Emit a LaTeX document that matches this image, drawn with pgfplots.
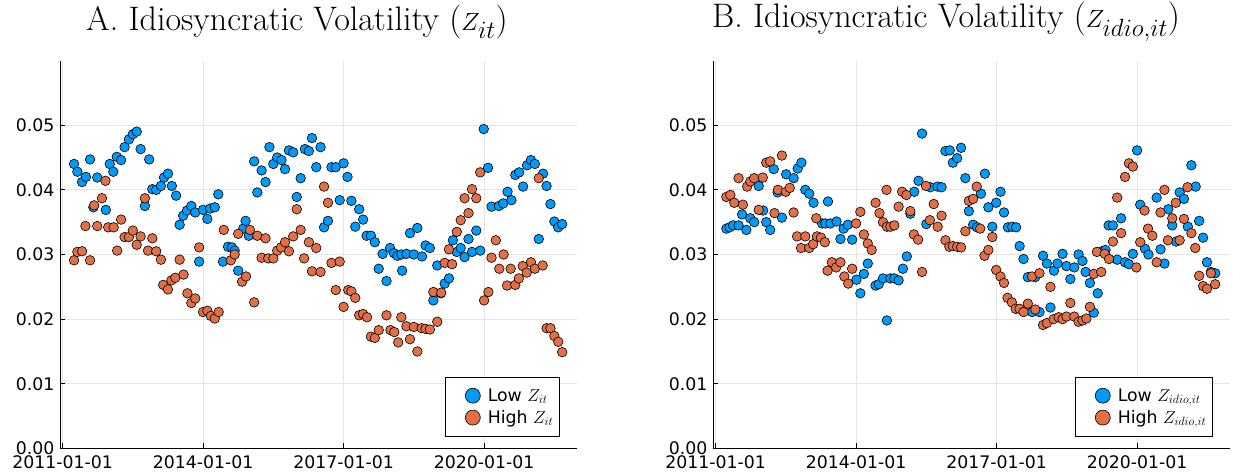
\documentclass[border=0pt]{standalone}
\usepackage{fontspec}
\usepackage{pgfplots}
\usepackage{pgfplotstable}
\pgfplotsset{compat=1.18}
\newfontfamily\dejavu{DejaVu Sans}
\definecolor{jblue}{RGB}{0,154,250}
\definecolor{jorange}{RGB}{227,111,71}
\newcommand{\tickfont}{\dejavu\fontsize{17.3}{20}\selectfont}

% month index (0 = 2011-01-01), value
\pgfplotstableread{
m v
2.95 0.0440
3.8 0.0428
5.0 0.0412
6.0 0.0420
7.05 0.0447
7.9 0.0373
8.9 0.0419
11.1 0.0369
12.1 0.0440
13.0 0.0428
13.9 0.0451
15.0 0.0446
15.9 0.0466
17.0 0.0478
18.0 0.0486
19.0 0.0490
20.0 0.0463
21.1 0.0375
22.2 0.0447
23.0 0.0401
24.0 0.0400
25.2 0.0406
26.0 0.0419
27.0 0.0425
28.0 0.0406
29.1 0.0391
30.0 0.0346
30.9 0.0360
31.9 0.0368
33.0 0.0375
34.0 0.0365
35.0 0.0289
36.0 0.0369
37.1 0.0355
37.8 0.0371
39.0 0.0373
39.9 0.0393
41.1 0.0289
42.4 0.0312
43.4 0.0311
44.1 0.0306
45.0 0.0275
46.3 0.0340
46.9 0.0352
47.7 0.0329
49.1 0.0444
49.9 0.0396
51.0 0.0430
52.0 0.0412
53.0 0.0466
54.0 0.0440
55.0 0.0450
56.1 0.0446
57.0 0.0432
58.0 0.0461
59.1 0.0458
60.0 0.0389
61.0 0.0418
62.1 0.0463
63.1 0.0460
63.9 0.0480
65.0 0.0435
66.1 0.0466
67.0 0.0342
68.0 0.0352
68.9 0.0435
70.0 0.0435
71.0 0.0384
72.0 0.0441
73.0 0.0420
74.0 0.0383
75.0 0.0343
76.0 0.0370
77.0 0.0354
77.9 0.0329
79.0 0.0329
80.0 0.0319
81.0 0.0278
82.0 0.0301
83.0 0.0259
83.9 0.0310
84.9 0.0302
85.8 0.0298
86.8 0.0300
87.0 0.0275
88.1 0.0301
89.0 0.0333
90.0 0.0300
90.9 0.0341
92.1 0.0297
93.0 0.0314
94.1 0.0310
95.0 0.0229
96.0 0.0283
96.9 0.0240
97.9 0.0255
99.0 0.0263
100.0 0.0322
101.0 0.0304
102.0 0.0310
103.0 0.0296
104.0 0.0324
104.9 0.0304
106.0 0.0337
107.0 0.0306
107.9 0.0494
109.0 0.0434
109.9 0.0374
111.8 0.0375
112.9 0.0379
114.0 0.0397
115.0 0.0384
116.0 0.0423
117.0 0.0427
118.0 0.0405
119.0 0.0438
120.0 0.0446
121.0 0.0440
122.0 0.0324
123.1 0.0425
124.0 0.0406
125.0 0.0378
126.0 0.0351
127.0 0.0342
128.0 0.0347
}\lowA

\pgfplotstableread{
m v
2.95 0.0291
3.8 0.0304
5.0 0.0305
5.86 0.0344
7.05 0.0291
8.1 0.0376
8.9 0.0344
10.1 0.0387
11.0 0.0414
11.7 0.0342
13.1 0.0342
14.0 0.0306
15.0 0.0354
15.9 0.0327
17.0 0.0327
18.0 0.0337
19.0 0.0315
20.0 0.0328
21.1 0.0387
21.9 0.0306
23.0 0.0325
24.0 0.0305
25.2 0.0292
25.8 0.0253
27.0 0.0246
27.9 0.0260
28.9 0.0264
30.0 0.0292
31.0 0.0269
32.0 0.0240
33.0 0.0225
34.0 0.0232
35.0 0.0311
36.0 0.0211
37.1 0.0213
38.0 0.0205
39.0 0.0201
40.0 0.0211
41.3 0.0338
43.1 0.0291
44.1 0.0300
45.0 0.0332
46.0 0.0258
47.0 0.0266
48.0 0.0338
49.1 0.0226
49.9 0.0329
51.0 0.0295
52.0 0.0325
52.7 0.0294
54.0 0.0294
55.0 0.0306
56.0 0.0311
57.0 0.0319
58.0 0.0305
59.1 0.0328
60.0 0.0370
61.0 0.0338
61.9 0.0294
63.1 0.0319
63.9 0.0274
65.0 0.0310
66.1 0.0273
67.0 0.0405
68.0 0.0380
68.9 0.0287
70.0 0.0245
71.0 0.0289
72.0 0.0219
73.2 0.0245
74.0 0.0243
75.0 0.0233
76.0 0.0206
77.0 0.0208
78.0 0.0203
79.0 0.0173
80.0 0.0171
81.0 0.0183
83.0 0.0206
84.0 0.0183
85.0 0.0180
86.0 0.0164
86.8 0.0203
88.1 0.0189
89.0 0.0169
90.0 0.0188
90.9 0.0150
92.0 0.0186
93.0 0.0185
94.1 0.0184
95.0 0.0242
96.0 0.0196
97.0 0.0241
97.9 0.0287
99.0 0.0308
99.8 0.0285
101.0 0.0335
102.0 0.0353
103.0 0.0387
104.0 0.0364
104.9 0.0401
106.0 0.0387
107.0 0.0427
108.0 0.0229
109.1 0.0242
109.9 0.0295
111.0 0.0322
111.9 0.0278
113.0 0.0300
113.9 0.0252
114.8 0.0278
116.0 0.0253
116.9 0.0263
117.9 0.0282
118.9 0.0272
120.0 0.0288
121.0 0.0278
122.0 0.0418
123.0 0.0283
124.0 0.0186
125.0 0.0186
126.0 0.0174
127.0 0.0165
128.0 0.0149
}\highA

\pgfplotstableread{
m v
2.77 0.0340
3.6 0.0342
4.5 0.0345
5.9 0.0345
6.8 0.0362
7.9 0.0338
8.9 0.0356
9.9 0.0350
11.05 0.0406
12.2 0.0368
13.0 0.0350
14.0 0.0338
14.9 0.0432
15.9 0.0396
17.0 0.0357
18.1 0.0424
20.0 0.0418
21.05 0.0433
22.0 0.0442
23.0 0.0400
24.0 0.0394
25.1 0.0380
26.0 0.0327
27.3 0.0348
28.1 0.0348
28.8 0.0382
29.4 0.0348
31.0 0.0351
32.0 0.0324
32.8 0.0340
33.9 0.0346
35.0 0.0323
36.1 0.0261
37.1 0.0240
38.0 0.0270
39.0 0.0286
41.0 0.0252
41.8 0.0254
42.9 0.0263
43.9 0.0198
44.8 0.0263
45.8 0.0263
46.9 0.0260
48.0 0.0278
49.0 0.0297
49.9 0.0363
50.9 0.0397
52.0 0.0414
52.9 0.0487
54.0 0.0347
55.0 0.0404
56.9 0.0405
57.9 0.0404
58.9 0.0460
60.0 0.0461
60.8 0.0442
61.9 0.0449
62.9 0.0465
64.0 0.0418
64.9 0.0367
66.0 0.0346
67.0 0.0342
68.0 0.0394
69.0 0.0425
69.9 0.0373
70.9 0.0343
71.9 0.0380
73.0 0.0397
73.9 0.0365
74.9 0.0342
76.0 0.0343
77.0 0.0342
77.9 0.0313
78.9 0.0293
80.0 0.0265
81.1 0.0211
81.9 0.0265
83.0 0.0211
83.9 0.0298
84.9 0.0286
85.8 0.0218
86.7 0.0275
87.6 0.0286
88.9 0.0301
89.9 0.0282
90.9 0.0262
91.9 0.0280
93.0 0.0300
94.0 0.0290
94.8 0.0273
95.9 0.0256
96.9 0.0210
97.9 0.0240
99.0 0.0305
99.9 0.0307
100.7 0.0345
101.8 0.0345
102.9 0.0292
103.9 0.0356
104.9 0.0288
105.9 0.0285
106.9 0.0301
108.0 0.0461
108.8 0.0377
110.0 0.0309
110.9 0.0300
113.0 0.0388
114.0 0.0308
115.0 0.0286
116.0 0.0370
117.0 0.0345
118.0 0.0320
118.9 0.0396
120.0 0.0386
121.0 0.0343
121.9 0.0438
123.0 0.0405
123.9 0.0352
124.9 0.0326
125.9 0.0288
126.9 0.0273
128.0 0.0271
}\lowB

\pgfplotstableread{
m v
2.77 0.0389
3.8 0.0392
4.8 0.0380
5.9 0.0418
7.0 0.0377
8.1 0.0405
8.9 0.0413
9.9 0.0418
11.05 0.0369
12.1 0.0419
13.0 0.0442
14.0 0.0444
15.1 0.0364
16.0 0.0400
17.0 0.0453
18.0 0.0397
19.0 0.0403
20.0 0.0365
20.9 0.0328
21.9 0.0310
23.0 0.0328
24.0 0.0310
25.0 0.0316
25.8 0.0356
26.0 0.0328
27.0 0.0326
28.0 0.0319
28.7 0.0275
29.8 0.0288
30.9 0.0280
32.0 0.0288
33.0 0.0266
34.0 0.0255
35.0 0.0278
36.0 0.0348
37.1 0.0366
38.0 0.0331
39.0 0.0317
40.0 0.0307
41.0 0.0380
42.0 0.0364
42.9 0.0350
43.8 0.0400
43.9 0.0343
44.8 0.0343
45.8 0.0345
46.9 0.0374
47.8 0.0397
48.9 0.0392
49.9 0.0367
50.8 0.0331
51.9 0.0323
52.9 0.0273
53.9 0.0406
54.9 0.0353
55.9 0.0378
56.9 0.0343
57.9 0.0360
58.9 0.0322
59.9 0.0312
60.8 0.0313
61.9 0.0312
62.9 0.0311
64.0 0.0336
64.9 0.0383
66.0 0.0386
66.9 0.0405
67.8 0.0340
68.9 0.0298
69.9 0.0307
70.9 0.0327
71.9 0.0276
73.0 0.0266
73.9 0.0256
74.8 0.0233
75.9 0.0226
76.9 0.0216
77.9 0.0216
78.9 0.0211
80.0 0.0224
81.1 0.0266
81.9 0.0215
83.0 0.0271
83.9 0.0191
84.9 0.0194
85.8 0.0250
86.6 0.0200
87.9 0.0203
88.9 0.0200
89.9 0.0204
90.9 0.0225
91.9 0.0204
93.0 0.0196
94.0 0.0198
95.0 0.0201
95.9 0.0219
96.9 0.0270
97.7 0.0304
98.8 0.0273
99.7 0.0301
100.8 0.0293
101.8 0.0320
102.9 0.0388
103.9 0.0333
104.9 0.0420
105.9 0.0441
106.9 0.0436
107.8 0.0280
108.8 0.0319
109.9 0.0368
110.8 0.0340
111.9 0.0329
113.0 0.0288
114.0 0.0365
115.0 0.0400
115.9 0.0322
117.0 0.0356
117.9 0.0380
118.9 0.0322
120.0 0.0355
120.9 0.0404
121.9 0.0333
122.9 0.0310
123.9 0.0267
124.9 0.0251
125.9 0.0247
126.9 0.0271
128.0 0.0254
}\highB

\pgfplotsset{
  jstyle/.style={
    scale only axis, width=517pt, height=388pt,
    anchor=south west,
    xmin=-0.65, xmax=131.8, ymin=0, ymax=0.06,
    axis x line*=bottom, axis y line*=left,
    axis line style={line width=1pt, black, -},
    tick align=inside, major tick length=5pt,
    tick style={line width=0.8pt, black},
    xtick={0,36,72,108},
    xticklabels={2011-01-01,2014-01-01,2017-01-01,2020-01-01},
    ytick={0,0.01,0.02,0.03,0.04,0.05},
    yticklabels={0.00,0.01,0.02,0.03,0.04,0.05},
    scaled y ticks=false, scaled x ticks=false,
    grid=major, grid style={line width=0.8pt, black!10},
    ticklabel style={font=\tickfont},
    xticklabel style={yshift=-4pt},
    yticklabel style={xshift=-2pt},
    legend style={at={(1,0)}, anchor=south east, xshift=-17pt, yshift=11.5pt,
      draw=black, line width=1.2pt, font=\tickfont,
      inner xsep=4pt, inner ysep=9.5pt, row sep=3.5pt},
    legend cell align=left,
    legend image code/.code={%
      \path[draw=none, fill=none] (0pt,-8pt) rectangle (36pt,8pt);
      \draw[##1, mark size=7.5pt] plot coordinates {(23pt,0pt)};},
  },
  lowser/.style={only marks, mark=*, mark size=4.8pt,
    mark options={fill=jblue, draw=black, line width=0.6pt}},
  highser/.style={only marks, mark=*, mark size=4.8pt,
    mark options={fill=jorange, draw=black, line width=0.6pt}},
}

\begin{document}
\begin{tikzpicture}
\useasboundingbox (0,0) rectangle (1233pt,476pt);
\begin{axis}[jstyle, at={(60pt,27.5pt)}]
\addplot[lowser] table[x=m,y=v] {\lowA};
\addlegendentry{Low $Z_{it}$}
\addplot[highser] table[x=m,y=v] {\highA};
\addlegendentry{High $Z_{it}$}
\end{axis}
\begin{axis}[jstyle, at={(713pt,27.5pt)}]
\addplot[lowser] table[x=m,y=v] {\lowB};
\addlegendentry{Low $Z_{idio,it}$}
\addplot[highser] table[x=m,y=v] {\highB};
\addlegendentry{High $Z_{idio,it}$}
\end{axis}
\node[inner sep=0pt, font=\fontsize{34}{40}\selectfont] at (297pt,454pt) {A. Idiosyncratic Volatility ($Z_{it}$)};
\node[inner sep=0pt, font=\fontsize{34}{40}\selectfont] at (946pt,454pt) {B. Idiosyncratic Volatility ($Z_{idio,it}$)};
\end{tikzpicture}
\end{document}
